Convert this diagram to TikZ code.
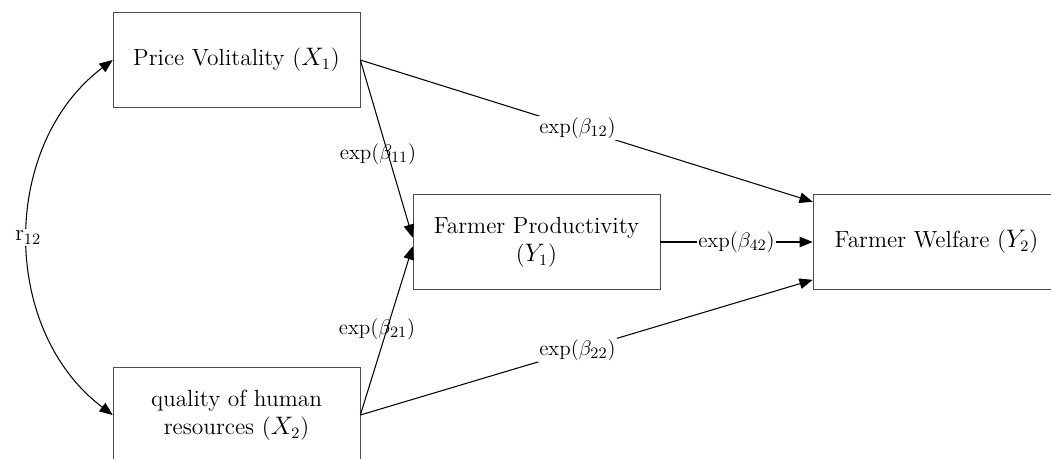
\documentclass[tikz,border=0pt]{standalone}
\usepackage{amsmath, amssymb}
\usepackage{tikz}
\usetikzlibrary{positioning, arrows.meta}
\usepackage{xcolor}

\begin{document}
\begin{tikzpicture}[
    x=0.02cm, y=-0.02cm,
    var/.style={rectangle, draw=black!70, fill=white, minimum width=4.94cm, minimum height=1.9cm, align=center, font=\fontsize{13.3}{16}\selectfont, inner sep=2pt},
    arrow/.style={-{Triangle[length=7.5pt, width=6pt]}, draw=black, semithick},
    coef/.style={font=\fontsize{12.8}{15}\selectfont, inner sep=1pt}
]
\clip (0,0) rectangle (1051,458);

% Exogenous variables
\node (x1) [var] at (236.5,60) {Price Volitality ($X_1$)};
\node (x2) [var] at (236.5,415) {quality of human\\resources ($X_2$)};

% Endogenous variables
\node (y1) [var] at (536.5,242) {Farmer Productivity\\($Y_1$)};
\node (y2) [var] at (936.5,242) {Farmer Welfare ($Y_2$)};

% Correlation
\draw [arrow, {Triangle[length=7.5pt, width=6pt]}-{Triangle[length=7.5pt, width=6pt]}] (x2.west) .. controls (0,330) and (0,145) .. node [coef, fill=white, pos=0.5] {r$_{12}$} (x1.west);

% Paths
\draw [arrow] (x1.east) -- node [coef, pos=0.53, xshift=-0.2cm] {$\exp(\beta_{11})$} (y1.178);
\draw [arrow] (x2.east) -- node [coef, pos=0.51, xshift=-0.2cm] {$\exp(\beta_{21})$} (y1.182);
\draw [arrow] (x1.east) -- node [coef, fill=white, pos=0.48] {$\exp(\beta_{12})$} (y2.162.5);
\draw [arrow] (x2.east) -- node [coef, fill=white, pos=0.48] {$\exp(\beta_{22})$} (y2.197.5);
\draw [arrow] (y1.east) -- node [coef, fill=white] {$\exp(\beta_{42})$} (y2.west);

\end{tikzpicture}
\end{document}
